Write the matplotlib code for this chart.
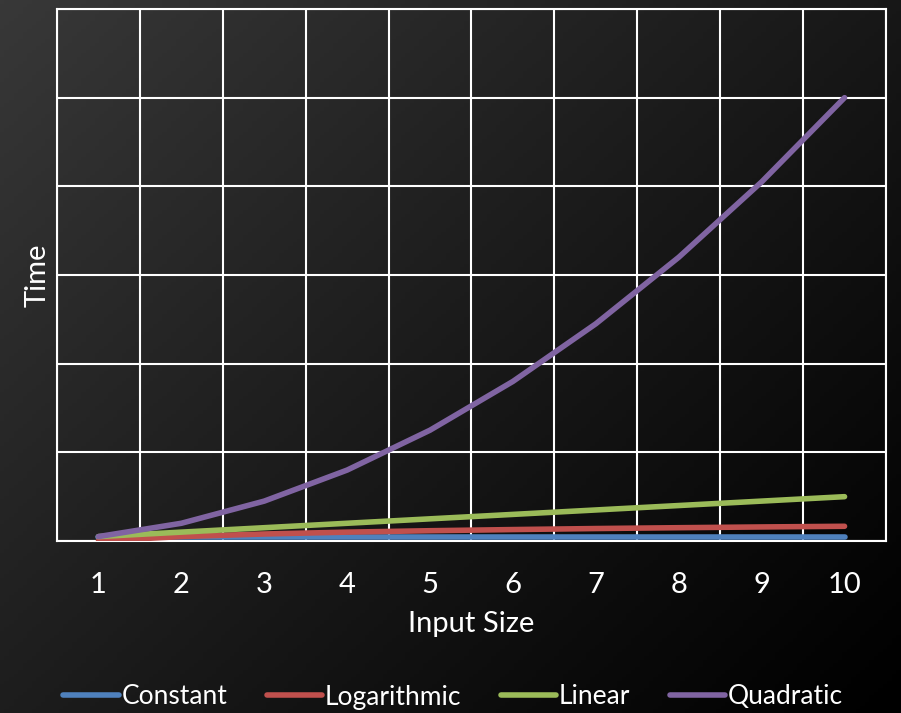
import numpy as np
import matplotlib
matplotlib.use("Agg")
import matplotlib.pyplot as plt

sizes = [1, 2, 3, 4, 5, 6, 7, 8, 9, 10]
constant = [1, 1, 1, 1, 1, 1, 1, 1, 1, 1]
logarithmic = [0, 1, 1.58, 2, 2.32, 2.58, 2.81, 3, 3.17, 3.32]
linear = [1, 2, 3, 4, 5, 6, 7, 8, 9, 10]
quadratic = [1, 4, 9, 16, 25, 36, 49, 64, 81, 100]
series_names = ["Constant", "Logarithmic", "Linear", "Quadratic"]
colors = ["#4F81BD", "#C0504D", "#9BBB59", "#8064A2"]

W, H = 901, 713
fig = plt.figure(figsize=(W / 100, H / 100), dpi=100)

# background diagonal gradient
bg = fig.add_axes([0, 0, 1, 1])
yy, xx = np.mgrid[0:1:200j, 0:1:200j]
t = (xx * 0.55 + yy * 0.45)
g = 0.22 * (1 - t) ** 1.1
img = np.dstack([g, g, g])
bg.imshow(img, aspect="auto", extent=[0, 1, 0, 1], origin="upper")
bg.axis("off")

ax = fig.add_axes([57 / W, (H - 541) / H, (886 - 57) / W, (541 - 9) / H])
ax.set_facecolor("none")

for vals, c, name in zip([constant, logarithmic, linear, quadratic], colors, series_names):
    ax.plot(sizes, vals, color=c, lw=4, solid_capstyle="round",
            solid_joinstyle="round", label=name, zorder=3)

ax.set_xlim(0.5, 10.5)
ax.set_ylim(0, 120)
ax.set_xticks(sizes)
ax.set_xticklabels([str(s) for s in sizes])
ax.set_xticks(np.arange(0.5, 11, 1), minor=True)
ax.set_yticks(np.arange(0, 121, 20))
ax.set_yticklabels([])
ax.tick_params(axis="both", which="both", length=0)
ax.tick_params(axis="x", which="major", pad=22, labelsize=21, labelcolor="white")
ax.grid(True, which="minor", axis="x", color="white", lw=1.5)
ax.grid(True, which="major", axis="y", color="white", lw=1.5)
for s in ax.spines.values():
    s.set_color("white")
    s.set_linewidth(1.5)
for lab in ax.get_xticklabels():
    lab.set_fontfamily("Lato")

ax.set_xlabel("Input Size", color="white", fontsize=21, family="Lato", labelpad=10)
ax.set_ylabel("Time", color="white", fontsize=21, family="Lato", labelpad=1)

leg = fig.legend(loc="center", bbox_to_anchor=(0.503, 1 - 697 / H), ncol=4,
                 frameon=False, handlelength=2.1, handletextpad=0.1,
                 columnspacing=1.5, prop={"family": "Lato", "size": 19})
for txt in leg.get_texts():
    txt.set_color("white")

fig.savefig("out.png", dpi=100)
